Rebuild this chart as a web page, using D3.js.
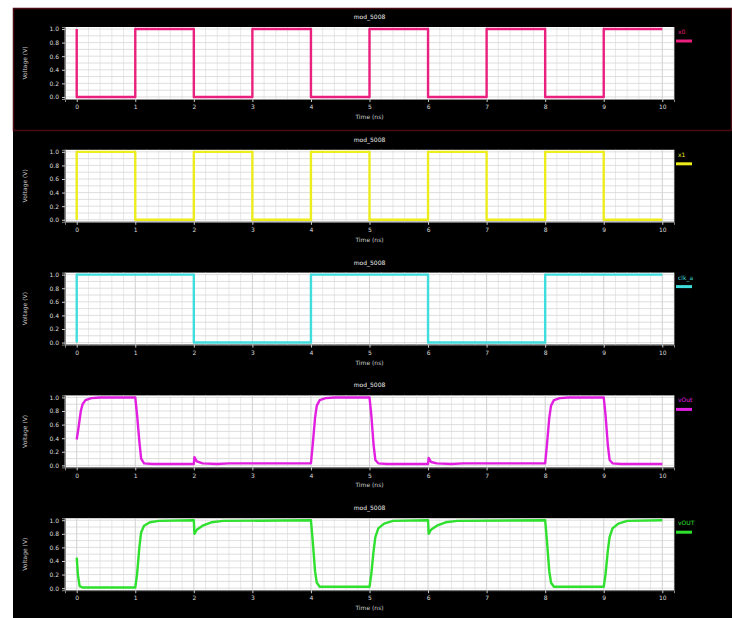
<!DOCTYPE html>
<html>
<head>
<meta charset="utf-8">
<script src="https://cdn.jsdelivr.net/npm/d3@7"></script>
<style>
  html, body { margin: 0; padding: 0; background: #fff; }
  svg { display: block; }
</style>
</head>
<body>
<script>
(function() {
  var w = 732;
  var h = 618;

  // tick labels
  var timeTicks = [0, 1, 2, 3, 4, 5, 6, 7, 8, 9, 10];
  var voltTicks = [0, 0.2, 0.4, 0.6, 0.8, 1.0];
  var panelTitle = 'mod_5008';

  // series names and colours
  var seriesNames = ['x0', 'x1', 'clk_a', 'vOut', 'vOUT'];
  var seriesColors = ['#ea1f7e', '#eded1c', '#3fdede', '#e21fe0', '#2fe02f'];

  // x0 (pink)
  var x0Time = [0, 0, 1, 1, 2, 2, 3, 3, 4, 4, 5, 5, 6, 6, 7, 7, 8, 8, 9, 9, 10];
  var x0Volt = [1, 0, 0, 1, 1, 0, 0, 1, 1, 0, 0, 1, 1, 0, 0, 1, 1, 0, 0, 1, 1];

  // x1 (yellow)
  var x1Time = [0, 0, 1, 1, 2, 2, 3, 3, 4, 4, 5, 5, 6, 6, 7, 7, 8, 8, 9, 9, 10];
  var x1Volt = [0, 1, 1, 0, 0, 1, 1, 0, 0, 1, 1, 0, 0, 1, 1, 0, 0, 1, 1, 0, 0];

  // clk (cyan)
  var clkTime = [0, 0, 2, 2, 4, 4, 6, 6, 8, 8, 10];
  var clkVolt = [0, 1, 1, 0, 0, 1, 1, 0, 0, 1, 1];

  // vOut (magenta)
  var outATime = [0, 0.03, 0.07, 0.1, 0.15, 0.25, 0.4, 1.0, 1.03, 1.07, 1.1, 1.15, 1.3,
    2.0, 2.01, 2.05, 2.15, 2.4, 2.6, 4.0, 4.03, 4.07, 4.1, 4.15, 4.25, 4.4, 5.0, 5.03,
    5.07, 5.1, 5.15, 5.3, 6.0, 6.01, 6.05, 6.15, 6.4, 6.6, 8.0, 8.03, 8.07, 8.1, 8.15,
    8.25, 8.4, 9.0, 9.03, 9.07, 9.1, 9.15, 9.3, 10];
  var outAVolt = [0.38, 0.55, 0.8, 0.9, 0.96, 0.99, 1.0, 1.0, 0.75, 0.35, 0.1, 0.03, 0.02,
    0.02, 0.12, 0.06, 0.03, 0.02, 0.03, 0.03, 0.3, 0.7, 0.88, 0.96, 0.99, 1.0, 1.0, 0.75,
    0.3, 0.08, 0.03, 0.02, 0.02, 0.11, 0.05, 0.03, 0.02, 0.03, 0.03, 0.3, 0.7, 0.88, 0.96,
    0.99, 1.0, 1.0, 0.75, 0.3, 0.08, 0.03, 0.02, 0.02];

  // vOUT (green)
  var outBTime = [0, 0.02, 0.05, 0.1, 1.0, 1.03, 1.07, 1.1, 1.15, 1.25, 1.4, 2.0, 2.01,
    2.05, 2.15, 2.3, 2.5, 4.0, 4.03, 4.07, 4.1, 4.15, 5.0, 5.03, 5.07, 5.1, 5.15, 5.25,
    5.4, 6.0, 6.01, 6.05, 6.15, 6.3, 6.5, 8.0, 8.03, 8.07, 8.1, 8.15, 9.0, 9.03, 9.07,
    9.1, 9.15, 9.25, 9.4, 10];
  var outBVolt = [0.45, 0.2, 0.03, 0.01, 0.01, 0.2, 0.6, 0.82, 0.92, 0.97, 0.99, 1.0, 0.8,
    0.86, 0.92, 0.97, 0.99, 1.0, 0.7, 0.25, 0.08, 0.02, 0.02, 0.2, 0.55, 0.75, 0.88, 0.95,
    0.99, 1.0, 0.8, 0.86, 0.92, 0.97, 0.99, 1.0, 0.7, 0.25, 0.08, 0.02, 0.02, 0.2, 0.55,
    0.75, 0.88, 0.95, 0.99, 1.0];

  var seriesTime = [x0Time, x1Time, clkTime, outATime, outBTime];
  var seriesVolt = [x0Volt, x1Volt, clkVolt, outAVolt, outBVolt];

  var left = 65, right = 674, plotH = 72, firstTop = 27, pitch = 122.8;

  var svg = d3.select('body').append('svg').attr('width', w).attr('height', h);

  svg.append('rect').attr('x', 13).attr('y', 8).attr('width', w - 13).attr('height', h - 8)
    .attr('fill', '#000');
  svg.append('rect').attr('x', 13.5).attr('y', 8.5).attr('width', w - 14).attr('height', 122)
    .attr('fill', 'none').attr('stroke', '#4a0b12').attr('stroke-width', 1.5);

  var xScale = d3.scaleLinear().domain([-0.2, 10.2]).range([left, right]);
  var minorX = d3.range(-0.2, 10.21, 0.2);
  var minorY = d3.range(0, 1.01, 0.1);

  seriesNames.forEach(function(name, i) {
    var top = firstTop + i * pitch;
    var yScale = d3.scaleLinear().domain([-0.03, 1.03]).range([top + plotH, top]);
    var g = svg.append('g');

    g.append('rect').attr('x', left).attr('y', top).attr('width', right - left)
      .attr('height', plotH).attr('fill', '#fff');

    g.selectAll('line.gx').data(minorX).enter().append('line')
      .attr('x1', d => xScale(d)).attr('x2', d => xScale(d))
      .attr('y1', top).attr('y2', top + plotH)
      .attr('stroke', d => Math.abs(d - Math.round(d)) < 1e-6 ? '#c4c4c4' : '#e2e2e2')
      .attr('stroke-width', 0.8);
    g.selectAll('line.gy').data(minorY).enter().append('line')
      .attr('x1', left).attr('x2', right)
      .attr('y1', d => yScale(d)).attr('y2', d => yScale(d))
      .attr('stroke', '#d6d6d6').attr('stroke-width', 0.8);

    var xAxis = g.append('g').attr('transform', 'translate(0,' + (top + plotH) + ')')
      .call(d3.axisBottom(xScale).tickValues(timeTicks).tickSize(3).tickFormat(d3.format('d')));
    var yAxis = g.append('g').attr('transform', 'translate(' + left + ',0)')
      .call(d3.axisLeft(yScale).tickValues(voltTicks).tickSize(3).tickFormat(d3.format('.1f')));
    [xAxis, yAxis].forEach(function(a) {
      a.select('.domain').attr('stroke', '#888');
      a.selectAll('line').attr('stroke', '#ccc');
      a.selectAll('text').attr('fill', '#ddd').attr('font-size', 6)
        .attr('font-family', 'DejaVu Sans');
    });

    var pts = seriesTime[i].map((t, k) => [t, seriesVolt[i][k]]);
    g.append('path').datum(pts)
      .attr('d', d3.line().x(d => xScale(d[0])).y(d => yScale(d[1])))
      .attr('fill', 'none').attr('stroke', seriesColors[i]).attr('stroke-width', 2.4)
      .attr('stroke-linejoin', 'round');

    g.append('text').attr('x', (left + right) / 2).attr('y', top - 8)
      .attr('text-anchor', 'middle').attr('fill', '#eee').attr('font-size', 6)
      .attr('font-family', 'DejaVu Sans').text(panelTitle);
    g.append('text').attr('x', (left + right) / 2).attr('y', top + plotH + 20)
      .attr('text-anchor', 'middle').attr('fill', '#ccc').attr('font-size', 6)
      .attr('font-family', 'DejaVu Sans').text('Time (ns)');
    g.append('text')
      .attr('transform', 'translate(27,' + (top + plotH / 2) + ') rotate(-90)')
      .attr('text-anchor', 'middle').attr('fill', '#ccc').attr('font-size', 6)
      .attr('font-family', 'DejaVu Sans').text('Voltage (V)');

    g.append('text').attr('x', 678).attr('y', top + 7).attr('fill', seriesColors[i])
      .attr('font-size', 6).attr('font-family', 'DejaVu Sans').text(name);
    g.append('line').attr('x1', 676).attr('x2', 692)
      .attr('y1', top + 14).attr('y2', top + 14)
      .attr('stroke', seriesColors[i]).attr('stroke-width', 3);
  });
})();
</script>
</body>
</html>
